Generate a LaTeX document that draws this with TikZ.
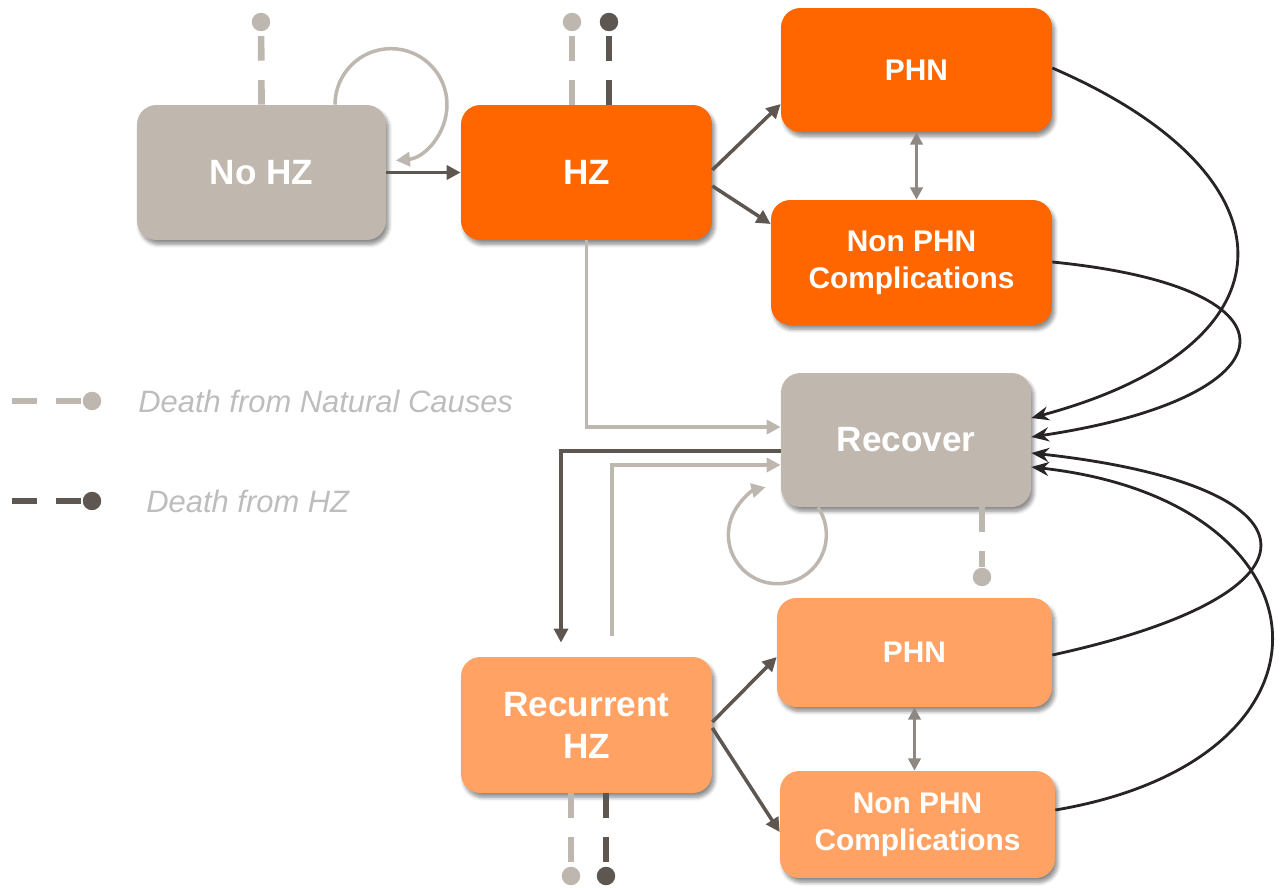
\documentclass[tikz,border=0pt]{standalone}
\usepackage{fontspec}
\setmainfont{Liberation Sans}
\usetikzlibrary{arrows.meta,shadows.blur}
\definecolor{boxgray}{HTML}{C0B8AF}
\definecolor{hzorange}{HTML}{FF6600}
\definecolor{reclight}{HTML}{FFA263}
\definecolor{arrdark}{HTML}{5E5651}
\definecolor{arrlight}{HTML}{BEB7B0}
\definecolor{arrmid}{HTML}{8F8782}
\definecolor{curveblk}{HTML}{272423}
\definecolor{legtext}{HTML}{BDBDBD}
\begin{document}
\begin{tikzpicture}[x=0.02cm,y=-0.02cm,
  state/.style={rounded corners=11pt,text=white,align=center,inner sep=0pt,
    font=\bfseries\fontsize{20}{24}\selectfont,
    blur shadow={shadow xshift=1.5pt,shadow yshift=-2.5pt,shadow blur steps=6,shadow opacity=45}},
  small/.style={font=\bfseries\fontsize{17}{21}\selectfont},
  flow/.style={line width=2pt,arrdark,-{Triangle[length=8pt,width=8pt]}},
  back/.style={line width=2pt,arrlight,-{Triangle[length=8pt,width=8pt]}},
  both/.style={line width=2pt,arrmid,{Triangle[length=7pt,width=7pt]}-{Triangle[length=7pt,width=7pt]}},
  ret/.style={line width=1.6pt,curveblk,-{Stealth[length=10pt,width=8pt]}},
  natline/.style={line width=3.8pt,arrlight,dash pattern=on 14pt off 11pt},
  hzline/.style={line width=3.8pt,arrdark,dash pattern=on 14pt off 11pt},
  natdot/.style={circle,fill=arrlight,minimum size=10.5pt,inner sep=0pt},
  hzdot/.style={circle,fill=arrdark,minimum size=10.5pt,inner sep=0pt},
  legend/.style={anchor=west,inner sep=0pt,text=legtext,font=\itshape\fontsize{17.6}{20}\selectfont}]
  \useasboundingbox (0,0) rectangle (1280,888);

  \node[state,fill=boxgray,minimum width=4.98cm,minimum height=2.7cm] (nohz) at (261.5,172.5) {No HZ};
  \node[state,fill=hzorange,minimum width=5.02cm,minimum height=2.7cm] (hz) at (586.5,172.5) {HZ};
  \node[state,small,fill=hzorange,minimum width=5.42cm,minimum height=2.48cm] (phn1) at (916.5,70) {PHN};
  \node[state,small,fill=hzorange,minimum width=5.62cm,minimum height=2.5cm] (nphn1) at (911.5,262.5) {Non PHN\\Complications};
  \node[state,fill=boxgray,minimum width=5cm,minimum height=2.68cm] (recover) at (906,440) {Recover};
  \node[state,small,fill=reclight,minimum width=5.5cm,minimum height=2.18cm] (phn2) at (914.5,652.5) {PHN};
  \node[state,small,fill=reclight,minimum width=5.5cm,minimum height=2.14cm] (nphn2) at (917.5,824.5) {Non PHN\\Complications};
  \node[state,fill=reclight,minimum width=5.02cm,minimum height=2.72cm] (rechz) at (586.5,725) {Recurrent\\HZ};

  \node[natdot] (dnohz) at (261,22) {};
  \node[natdot] (dhznat) at (572,22) {};
  \node[hzdot] (dhzhz) at (609,22) {};
  \node[natdot] (drec) at (982,577) {};
  \node[natdot] (drhznat) at (571,876) {};
  \node[hzdot] (drhzhz) at (606,876) {};
  \draw[natline] (nohz.north) -- (dnohz);
  \draw[natline] (hz.north -| 572,0) -- (dhznat);
  \draw[hzline] (hz.north -| 609,0) -- (dhzhz);
  \draw[natline] (recover.south -| 982,0) -- (drec);
  \draw[natline] (rechz.south -| 571,0) -- (drhznat);
  \draw[hzline] (rechz.south -| 606,0) -- (drhzhz);

  \node[natdot] (lgnat) at (92,401) {};
  \coordinate (lgnatend) at (12,401);
  \draw[natline] (lgnatend) -- (lgnat);
  \node[legend] (lgnattext) at (138,401) {Death from Natural Causes};
  \node[hzdot] (lghz) at (92,501) {};
  \coordinate (lghzend) at (12,501);
  \draw[hzline] (lghzend) -- (lghz);
  \node[legend] (lghztext) at (146,501) {Death from HZ};

  \draw[flow] (nohz) -- (hz);
  \draw[back] (nohz.north -| 335,0) arc[start angle=180,end angle=-85,radius=1.12cm];
  \draw[flow] (hz.east |- 0,170) -- (phn1.west |- 0,104);
  \draw[flow] (hz.east |- 0,186) -- (nphn1.west |- 0,224);
  \draw[both] (phn1.south) -- (phn1.south |- nphn1.north);
  \draw[back] (hz.south) |- (recover.west |- 0,427);
  \draw[flow,shorten >=8pt] (recover.west |- 0,451) -| (rechz.north -| 561,0);
  \draw[back,shorten <=12pt] (rechz.north -| 612,0) |- (recover.west |- 0,465);
  \draw[back] (recover.south -| 818,0) arc[start angle=34,end angle=-256,radius=0.98cm];
  \draw[flow] (rechz.east |- 0,722) -- (phn2.west |- 0,657);
  \draw[flow] (rechz.east |- 0,728) -- (nphn2.west |- 0,832);
  \draw[both] (phn2.south) -- (phn2.south |- nphn2.north);

  \draw[ret] (phn1.east |- 0,68) .. controls (1300,175) and (1303,345) .. (recover.east |- 0,418);
  \draw[ret] (nphn1.east |- 0,262) .. controls (1315,288) and (1293,398) .. (recover.east |- 0,437);
  \draw[ret] (phn2.east |- 0,655) .. controls (1341,592) and (1323,485) .. (recover.east |- 0,453);
  \draw[ret] (nphn2.east |- 0,810) .. controls (1357,759) and (1337,501) .. (recover.east |- 0,467);
\end{tikzpicture}
\end{document}
